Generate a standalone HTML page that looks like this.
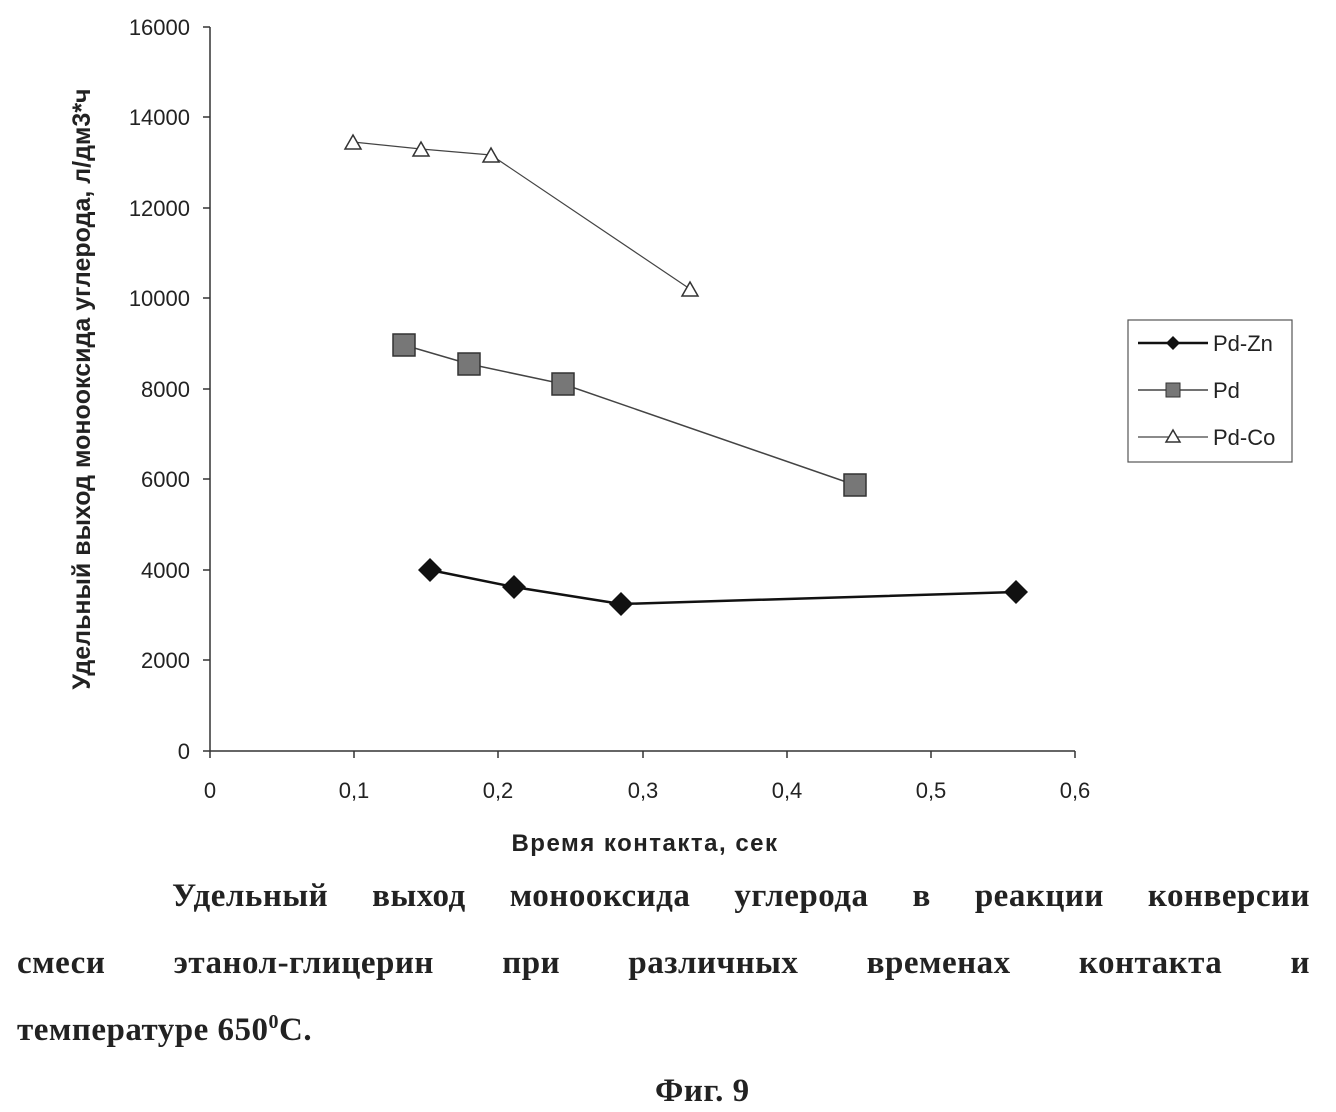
<!DOCTYPE html>
<html><head><meta charset="utf-8"><style>
body{margin:0;background:#fff;width:1336px;height:1112px;position:relative;overflow:hidden;font-family:"Liberation Sans",sans-serif}
.cap{position:absolute;font-family:"Liberation Serif",serif;font-weight:bold;font-size:33px;color:#222;letter-spacing:0.5px}
.j{text-align:justify;text-align-last:justify}
</style></head><body>
<svg width="1336" height="880" style="position:absolute;left:0;top:0" font-family="Liberation Sans, sans-serif">
<g stroke="#333" stroke-width="1.5">
<line x1="210" y1="27" x2="210" y2="751"/>
<line x1="210" y1="751" x2="1075" y2="751"/>
<line x1="203" y1="27" x2="210" y2="27"/><line x1="203" y1="117" x2="210" y2="117"/><line x1="203" y1="208" x2="210" y2="208"/><line x1="203" y1="298" x2="210" y2="298"/><line x1="203" y1="389" x2="210" y2="389"/><line x1="203" y1="479" x2="210" y2="479"/><line x1="203" y1="570" x2="210" y2="570"/><line x1="203" y1="660" x2="210" y2="660"/><line x1="203" y1="751" x2="210" y2="751"/>
<line x1="354" y1="751" x2="354" y2="758"/><line x1="498" y1="751" x2="498" y2="758"/><line x1="643" y1="751" x2="643" y2="758"/><line x1="787" y1="751" x2="787" y2="758"/><line x1="931" y1="751" x2="931" y2="758"/><line x1="1075" y1="751" x2="1075" y2="758"/><line x1="210" y1="751" x2="210" y2="758"/>
</g>
<g font-size="22" fill="#222" text-anchor="end">
<text x="190" y="35">16000</text><text x="190" y="125">14000</text><text x="190" y="216">12000</text><text x="190" y="306">10000</text><text x="190" y="397">8000</text><text x="190" y="487">6000</text><text x="190" y="578">4000</text><text x="190" y="668">2000</text><text x="190" y="759">0</text>
</g>
<g font-size="22" fill="#222" text-anchor="middle">
<text x="210" y="798">0</text><text x="354" y="798">0,1</text><text x="498" y="798">0,2</text><text x="643" y="798">0,3</text><text x="787" y="798">0,4</text><text x="931" y="798">0,5</text><text x="1075" y="798">0,6</text>
</g>
<text x="645" y="851" font-size="24" font-weight="bold" letter-spacing="1.5" text-anchor="middle" fill="#222">Время контакта, сек</text>
<text transform="translate(90,389) rotate(-90)" font-size="25" font-weight="bold" text-anchor="middle" fill="#222">Удельный выход монооксида углерода, л/дм3*ч</text>
<polyline points="353,142 421,149 491,155 690,289" fill="none" stroke="#444" stroke-width="1.2"/>
<g fill="#fff" stroke="#333" stroke-width="1.5">
<polygon points="353,135 361,149 345,149"/><polygon points="421,142 429,156 413,156"/><polygon points="491,148 499,162 483,162"/><polygon points="690,282 698,296 682,296"/>
</g>
<polyline points="404,345 469,364 563,384 855,485" fill="none" stroke="#444" stroke-width="1.5"/>
<g fill="#777" stroke="#333" stroke-width="1.5">
<rect x="393" y="334" width="22" height="22"/><rect x="458" y="353" width="22" height="22"/><rect x="552" y="373" width="22" height="22"/><rect x="844" y="474" width="22" height="22"/>
</g>
<polyline points="430,570 514,587 621,604 1016,592" fill="none" stroke="#111" stroke-width="2.5"/>
<g fill="#111">
<polygon points="430,558 442,570 430,582 418,570"/><polygon points="514,575 526,587 514,599 502,587"/><polygon points="621,592 633,604 621,616 609,604"/><polygon points="1016,580 1028,592 1016,604 1004,592"/>
</g>
<rect x="1128" y="320" width="164" height="142" fill="#fff" stroke="#555" stroke-width="1.2"/>
<line x1="1138" y1="343" x2="1208" y2="343" stroke="#111" stroke-width="2.5"/>
<polygon points="1173,336 1180,343 1173,350 1166,343" fill="#111"/>
<line x1="1138" y1="390" x2="1208" y2="390" stroke="#444" stroke-width="1.5"/>
<rect x="1166" y="383" width="14" height="14" fill="#777" stroke="#333"/>
<line x1="1138" y1="437" x2="1208" y2="437" stroke="#444" stroke-width="1.2"/>
<polygon points="1173,430 1180,442 1166,442" fill="#fff" stroke="#333" stroke-width="1.5"/>
<g font-size="22" fill="#222"><text x="1213" y="351">Pd-Zn</text><text x="1213" y="398">Pd</text><text x="1213" y="445">Pd-Co</text></g>
</svg>
<div class="cap j" style="left:172px;top:878px;width:1138px">Удельный выход монооксида углерода в реакции конверсии</div>
<div class="cap j" style="left:17px;top:945px;width:1293px">смеси этанол-глицерин при различных временах контакта и</div>
<div class="cap" style="left:17px;top:1011px">температуре 650<sup style="font-size:20px">0</sup>С.</div>
<div class="cap" style="left:655px;top:1073px">Фиг. 9</div>
</body></html>
